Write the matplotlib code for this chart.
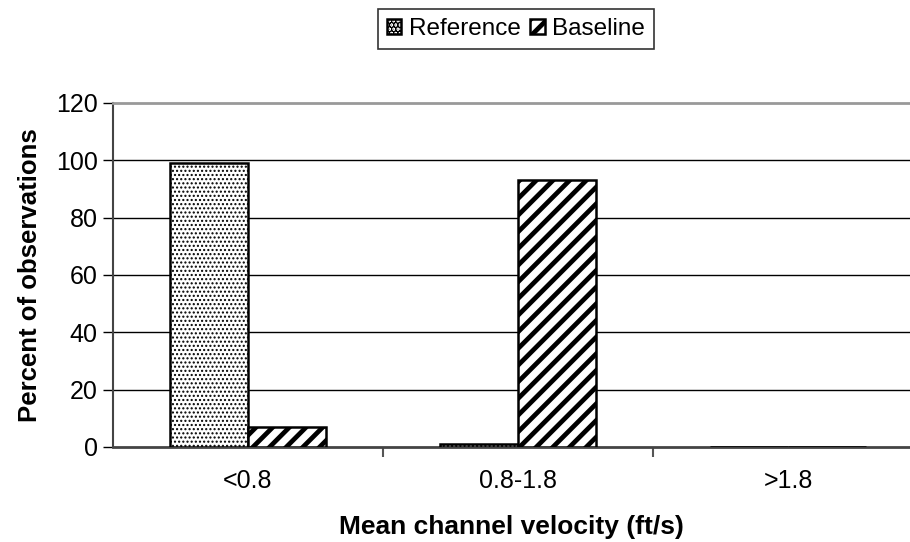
import matplotlib
matplotlib.use("Agg")
import matplotlib.pyplot as plt
import numpy as np

categories = ["<0.8", "0.8-1.8", ">1.8"]
reference = [99, 1, 0]
baseline = [7, 93, 0]
yticks = [0, 20, 40, 60, 80, 100, 120]

plt.rcParams['font.family'] = ['Liberation Sans', 'DejaVu Sans']

fig = plt.figure(figsize=(9.1, 5.42), dpi=100)
ax = fig.add_axes([113/910, 1-447/542, 1-113/910, (447-103)/542])

x = np.arange(len(categories))
w = 0.29
plt.rcParams['hatch.linewidth'] = 1.0
b1 = ax.bar(x - w/2, reference, w, color='white', edgecolor='black', linewidth=1.8,
            hatch='....', zorder=3, label='Reference')
plt.rcParams['hatch.linewidth'] = 3.4
b2 = ax.bar(x + w/2, baseline, w, color='white', edgecolor='black', linewidth=1.8,
            hatch='//', zorder=3, label='Baseline')

ax.set_xlim(-0.5, -0.5 + 797/270)
ax.set_ylim(0, 120)
ax.set_yticks(yticks)
ax.set_yticklabels([str(t) for t in yticks], fontsize=18)
ax.set_xticks(x)
ax.set_xticklabels(categories, fontsize=18)
ax.tick_params(axis='x', length=0, pad=16)
ax.tick_params(axis='y', length=7, width=1, direction='out', pad=4)
ax.set_xticks([0.5, 1.5], minor=True)
ax.tick_params(axis='x', which='minor', length=7, width=1.5, color='#555555')

for t in yticks[1:-1]:
    ax.axhline(t, color='black', linewidth=1, zorder=1)

ax.spines['right'].set_visible(False)
ax.spines['top'].set_color('#999999')
ax.spines['top'].set_linewidth(2)
ax.spines['left'].set_color('#444444')
ax.spines['left'].set_linewidth(1.5)
ax.spines['bottom'].set_color('#444444')
ax.spines['bottom'].set_linewidth(2)

ax.set_ylabel('Percent of observations', fontsize=18.5, fontweight='bold', labelpad=10)
ax.set_xlabel('Mean channel velocity (ft/s)', fontsize=19, fontweight='bold', labelpad=16)

leg = fig.legend(handles=[b1, b2], loc='center', bbox_to_anchor=(516/910, 1-29/542),
                 ncol=2, fontsize=17.5, frameon=True, fancybox=False, handlelength=0.6,
                 handleheight=0.6, handletextpad=0.3, columnspacing=0.4,
                 borderpad=0.35, edgecolor='black')
leg.get_frame().set_linewidth(1.2)

fig.savefig('out.png', dpi=100)
